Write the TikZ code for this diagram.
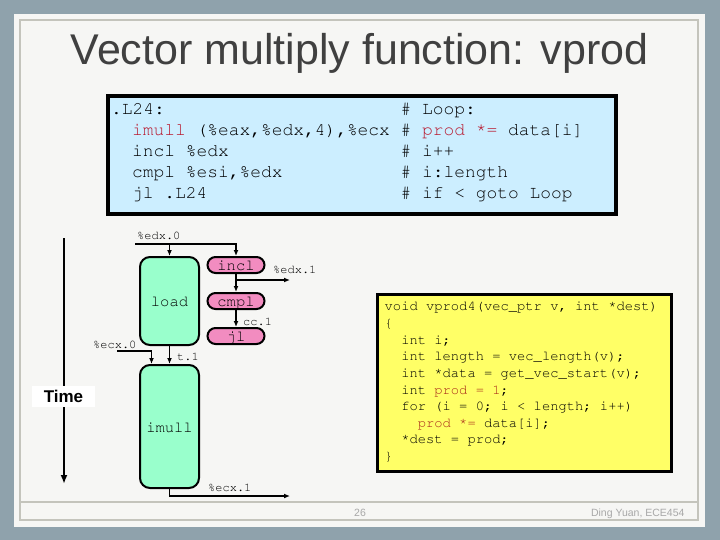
\documentclass[tikz,border=0pt]{standalone}
\usepackage[T1,TU]{fontenc}
\usepackage{fontspec}
\setmainfont{Liberation Sans}
\usetikzlibrary{arrows.meta,calc,positioning}
\definecolor{slidebg}{HTML}{8FA2AC}
\definecolor{slidepanel}{HTML}{F6F6F4}
\definecolor{slideline}{HTML}{C4C4BC}
\definecolor{titlegrey}{HTML}{404040}
\definecolor{footgrey}{HTML}{A8A8A8}
\definecolor{asmblue}{HTML}{CCEEFF}
\definecolor{codeyellow}{HTML}{FFFF66}
\definecolor{opgreen}{HTML}{99FFCC}
\definecolor{oppink}{HTML}{F28CC0}
\definecolor{asmred}{HTML}{B8182E}
\definecolor{cred}{HTML}{A82818}
\newcommand{\cour}{\fontencoding{T1}\fontfamily{pcr}\selectfont}
\newcommand{\cstar}{\raisebox{0.18em}{*}}

\begin{document}
\begin{tikzpicture}[x=1pt,y=-1pt,
  op/.style={draw=black,line width=2pt,inner sep=0pt,text height=12.5pt,text depth=1.5pt,
    font=\cour\fontsize{15.5}{16}\selectfont},
  bigop/.style={op,fill=opgreen,minimum width=59pt,rounded corners=10pt},
  smallop/.style={op,fill=oppink,minimum width=57pt,minimum height=16pt,rounded corners=8pt},
  flow/.style={line width=1.2pt,-{Latex[length=6pt,width=5pt]}},
  reg/.style={font=\cour\fontsize{12}{12}\selectfont,inner sep=0pt,anchor=base west},
  asm/.style={font=\cour\fontsize{17.9}{18}\selectfont,inner sep=0pt,anchor=base west},
  ccode/.style={font=\cour\fontsize{13.8}{14}\selectfont,inner sep=0pt,anchor=base west}]
  \useasboundingbox (0,0) rectangle (720,540);
  % slide frame
  \fill[slidebg] (0,0) rectangle (720,540);
  \fill[slidepanel] (14,14) rectangle (705,527);
  \draw[slideline,line width=1.3pt] (20,20) rectangle (698,520) (20,502) -- (698,502);
  \node[font=\fontsize{43}{48}\selectfont,text=titlegrey,anchor=base] (title) at (359.5,65) {Vector multiply function: vprod};

  % assembly loop
  \node[draw=black,line width=4pt,fill=asmblue,minimum width=508pt,minimum height=118pt,inner sep=0pt] (asmbox) at (362,155) {};
  \foreach \x/\code/\note [count=\i] in {
      111/{.L24:}/{Loop:},
      132/{\textcolor{asmred}{imull} (\%eax,\%edx,4),\%ecx}/{\textcolor{asmred}{prod \cstar=} data[i]},
      132/{incl \%edx}/{i++},
      132/{cmpl \%esi,\%edx}/{i:length},
      132/{jl .L24}/{if < goto Loop}}{
    \node[asm] (asm\i) at (\x,{115+20.9*(\i-1)}) {\code};
    \node[asm] (note\i) at (400.5,{115+20.9*(\i-1)}) {\# \note};
  }

  % C source
  \node[draw=black,line width=3pt,fill=codeyellow,minimum width=294pt,minimum height=177pt,inner sep=0pt] (cbox) at (524.5,383) {};
  \foreach \col/\txt [count=\i] in {
      0/{void vprod4(vec\_ptr v, int \cstar dest)},
      0/{\{},
      2/{int i;},
      2/{int length = vec\_length(v);},
      2/{int \cstar data = get\_vec\_start(v);},
      2/{int \textcolor{cred}{prod = 1};},
      2/{for (i = 0; i < length; i++)},
      4/{\textcolor{cred}{prod \cstar=} data[i];},
      2/{\cstar dest = prod;},
      0/{\}}}
    \node[ccode] (c\i) at ({384.5+8.28*\col},{310.7+16.66*(\i-1)}) {\txt};

  % operations
  \node[bigop,minimum height=88pt] (load) at (169.5,301) {load};
  \node[bigop,minimum height=123pt] (imull) at (169.5,426.5) {imull};
  \node[smallop] (incl) at (236,265) {incl};
  \node[smallop] (cmpl) at (236,301) {cmpl};
  \node[smallop] (jl) at (236,336) {jl};

  % data flow
  \coordinate (edx0) at (135,244);
  \coordinate (edx1) at (290,280);
  \coordinate (ecx0) at (117,351);
  \coordinate (ecx1) at (290,496);
  \draw[flow] (edx0) -| (incl.north);
  \draw[flow] (edx0 -| load.north) -- (load.north);
  \draw[flow] (incl) -- (cmpl);
  \draw[flow] (edx1 -| incl.south) -- (edx1);
  \draw[flow] (cmpl) -- (jl);
  \draw[flow] (load) -- (imull);
  \draw[flow] (ecx0) -| ($(imull.north)+(-18,0)$);
  \draw[flow] (imull.south) |- (ecx1);
  \node[reg] (edx0lbl) at (137,240) {\%edx.0};
  \node[reg] (edx1lbl) at (273,273) {\%edx.1};
  \node[reg] (cclbl) at (243,325) {cc.1};
  \node[reg] (tlbl) at (177,360) {t.1};
  \node[reg] (ecx0lbl) at (93,348) {\%ecx.0};
  \node[reg] (ecx1lbl) at (208,491) {\%ecx.1};

  % time axis
  \coordinate (tstart) at (64,238);
  \coordinate (tend) at (64,484);
  \draw[line width=2.7pt,-{Latex[length=9pt,width=7pt]}] (tstart) -- (tend);
  \node[fill=white,minimum width=63pt,minimum height=21pt,inner sep=0pt,
    font=\bfseries\fontsize{17}{17}\selectfont] (time) at (63.5,396.5) {Time};

  % footer
  \node[font=\fontsize{10.5}{11}\selectfont,text=footgrey,anchor=base] (pagenum) at (360,516) {26};
  \node[font=\fontsize{10.5}{11}\selectfont,text=footgrey,anchor=base east] (credit) at (688,516) {Ding Yuan, ECE454};
\end{tikzpicture}
\end{document}
